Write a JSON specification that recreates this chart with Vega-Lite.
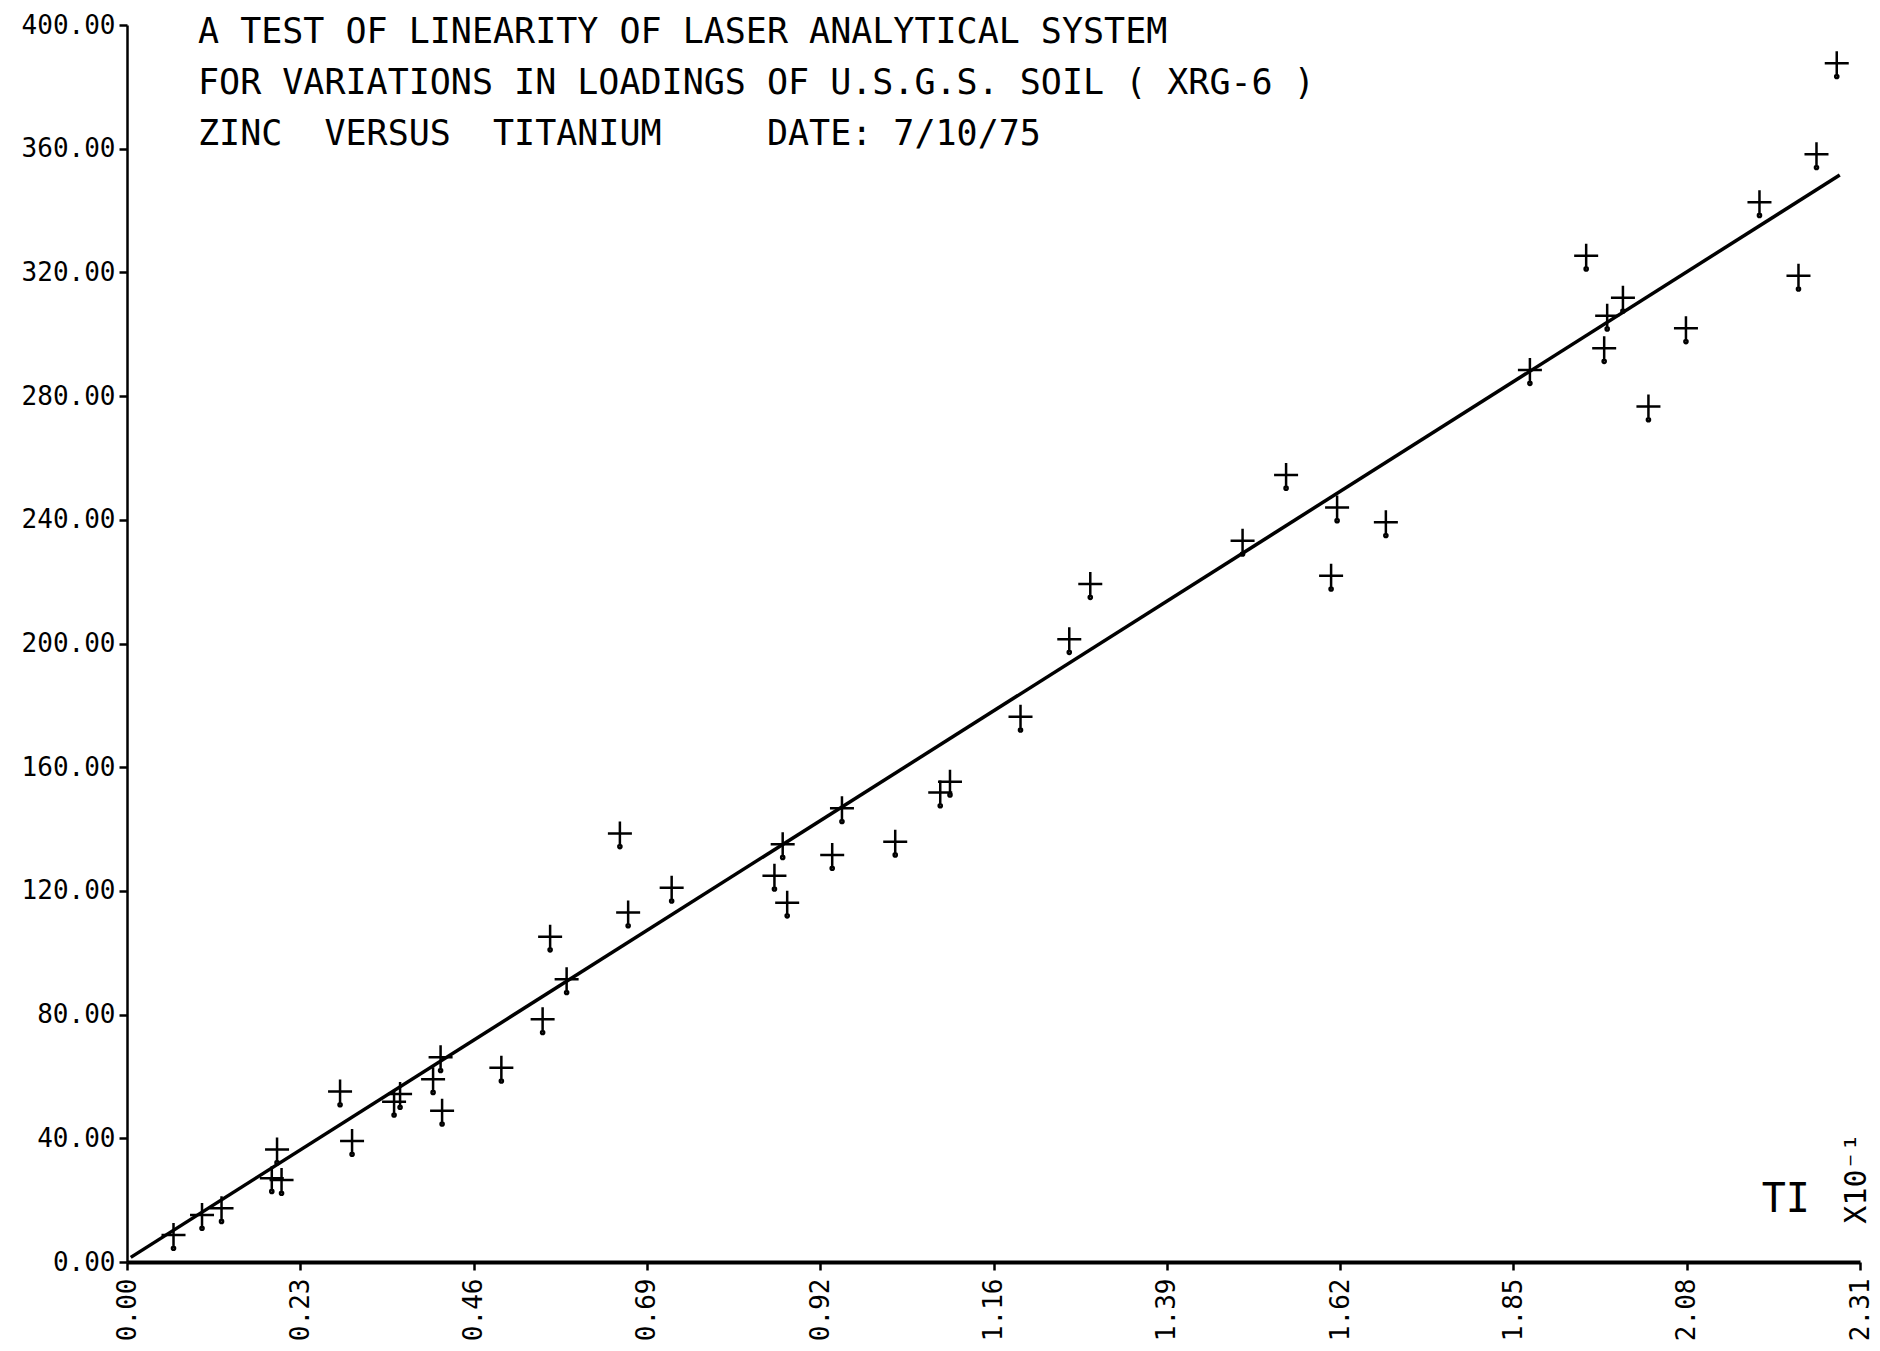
{
  "$schema": "https://vega.github.io/schema/vega-lite/v6.json",
  "width": 1733,
  "height": 1237,
  "autosize": {"type": "none"},
  "padding": {"left": 127, "top": 25, "right": 20, "bottom": 89},
  "background": "white",
  "title": {
    "text": [
      "A TEST OF LINEARITY OF LASER ANALYTICAL SYSTEM",
      "FOR VARIATIONS IN LOADINGS OF U.S.G.S. SOIL ( XRG-6 )",
      "ZINC\u00a0\u00a0VERSUS\u00a0\u00a0TITANIUM\u00a0\u00a0\u00a0\u00a0\u00a0DATE:\u00a07/10/75"
    ],
    "anchor": "start",
    "frame": "group",
    "orient": "top",
    "baseline": "top",
    "offset": -140,
    "dx": 71,
    "font": "DejaVu Sans Mono",
    "fontSize": 35,
    "fontWeight": "normal",
    "lineHeight": 51,
    "color": "black"
  },
  "config": {
    "view": {"stroke": null},
    "axis": {
      "grid": false,
      "domainColor": "black",
      "tickColor": "black",
      "labelColor": "black",
      "labelFont": "DejaVu Sans Mono",
      "labelFontSize": 26,
      "labelOverlap": false,
      "labelFlush": false,
      "labelBound": false,
      "tickSize": 8,
      "tickWidth": 2.5
    }
  },
  "datasets": {
    "points": [
      {"Ti": 0.062, "Zn": 8.7},
      {"Ti": 0.100, "Zn": 15.2},
      {"Ti": 0.126, "Zn": 17.4},
      {"Ti": 0.200, "Zn": 36.4},
      {"Ti": 0.193, "Zn": 27.1},
      {"Ti": 0.206, "Zn": 26.5},
      {"Ti": 0.300, "Zn": 39.1},
      {"Ti": 0.284, "Zn": 55.1},
      {"Ti": 0.364, "Zn": 54.3},
      {"Ti": 0.356, "Zn": 51.8},
      {"Ti": 0.418, "Zn": 66.2},
      {"Ti": 0.408, "Zn": 59.1},
      {"Ti": 0.420, "Zn": 48.9},
      {"Ti": 0.499, "Zn": 62.8},
      {"Ti": 0.554, "Zn": 78.5},
      {"Ti": 0.586, "Zn": 91.4},
      {"Ti": 0.564, "Zn": 105.2},
      {"Ti": 0.657, "Zn": 138.6},
      {"Ti": 0.668, "Zn": 113.0},
      {"Ti": 0.726, "Zn": 121.0},
      {"Ti": 0.874, "Zn": 135.1},
      {"Ti": 0.863, "Zn": 124.9},
      {"Ti": 0.880, "Zn": 116.2},
      {"Ti": 0.953, "Zn": 146.7},
      {"Ti": 0.940, "Zn": 131.6},
      {"Ti": 1.024, "Zn": 135.9},
      {"Ti": 1.084, "Zn": 151.8},
      {"Ti": 1.097, "Zn": 155.3},
      {"Ti": 1.191, "Zn": 176.3},
      {"Ti": 1.256, "Zn": 201.4},
      {"Ti": 1.284, "Zn": 219.2},
      {"Ti": 1.487, "Zn": 233.2},
      {"Ti": 1.545, "Zn": 254.5},
      {"Ti": 1.613, "Zn": 244.0},
      {"Ti": 1.605, "Zn": 221.9},
      {"Ti": 1.678, "Zn": 239.2},
      {"Ti": 1.870, "Zn": 288.4},
      {"Ti": 1.945, "Zn": 325.4},
      {"Ti": 1.994, "Zn": 311.8},
      {"Ti": 1.973, "Zn": 306.0},
      {"Ti": 1.969, "Zn": 295.5},
      {"Ti": 2.078, "Zn": 301.9},
      {"Ti": 2.028, "Zn": 276.6},
      {"Ti": 2.228, "Zn": 318.9},
      {"Ti": 2.176, "Zn": 342.7},
      {"Ti": 2.252, "Zn": 358.2},
      {"Ti": 2.279, "Zn": 387.6}
    ],
    "fit": [
      {"Ti": 0.005, "Zn": 1.5},
      {"Ti": 2.283, "Zn": 351.5}
    ]
  },
  "layer": [
    {
      "data": {"name": "fit"},
      "mark": {"type": "line", "color": "black", "strokeWidth": 3.5},
      "encoding": {
        "x": {
          "field": "Ti",
          "type": "quantitative",
          "scale": {"domain": [0, 2.31], "nice": false, "zero": true},
          "axis": {
            "title": null,
            "values": [0, 0.231, 0.462, 0.693, 0.924, 1.155, 1.386, 1.617, 1.848, 2.079, 2.31],
            "labelExpr": "format(round(datum.value*100)/100, '.2f')",
            "labelAngle": 270,
            "labelPadding": 8,
            "domainWidth": 4
          }
        },
        "y": {
          "field": "Zn",
          "type": "quantitative",
          "scale": {"domain": [0, 400], "nice": false},
          "axis": {
            "title": null,
            "values": [0, 40, 80, 120, 160, 200, 240, 280, 320, 360, 400],
            "labelExpr": "format(datum.value, '.2f')",
            "labelPadding": 4,
            "domainWidth": 2.5
          }
        }
      }
    },
    {
      "data": {"name": "points"},
      "mark": {
        "type": "point",
        "shape": "M-1,0H1M0,-1V1M0,1.1m-0.13,0a0.13,0.13 0 1,0 0.26,0a0.13,0.13 0 1,0 -0.26,0",
        "filled": false,
        "color": "black",
        "strokeWidth": 2.5,
        "size": 576,
        "opacity": 1
      },
      "encoding": {
        "x": {"field": "Ti", "type": "quantitative"},
        "y": {"field": "Zn", "type": "quantitative"}
      }
    },
    {
      "data": {"values": [{"label": "TI"}]},
      "mark": {"type": "text", "font": "DejaVu Sans Mono", "fontSize": 40, "color": "black", "align": "center", "baseline": "middle"},
      "encoding": {
        "x": {"datum": 2.211, "type": "quantitative"},
        "y": {"datum": 20, "type": "quantitative"},
        "text": {"field": "label"}
      }
    },
    {
      "data": {"values": [{"label": "X10⁻¹"}]},
      "mark": {"type": "text", "font": "DejaVu Sans Mono", "fontSize": 30, "color": "black", "align": "center", "baseline": "middle", "angle": 270},
      "encoding": {
        "x": {"datum": 2.306, "type": "quantitative"},
        "y": {"datum": 27, "type": "quantitative"},
        "text": {"field": "label"}
      }
    }
  ]
}
